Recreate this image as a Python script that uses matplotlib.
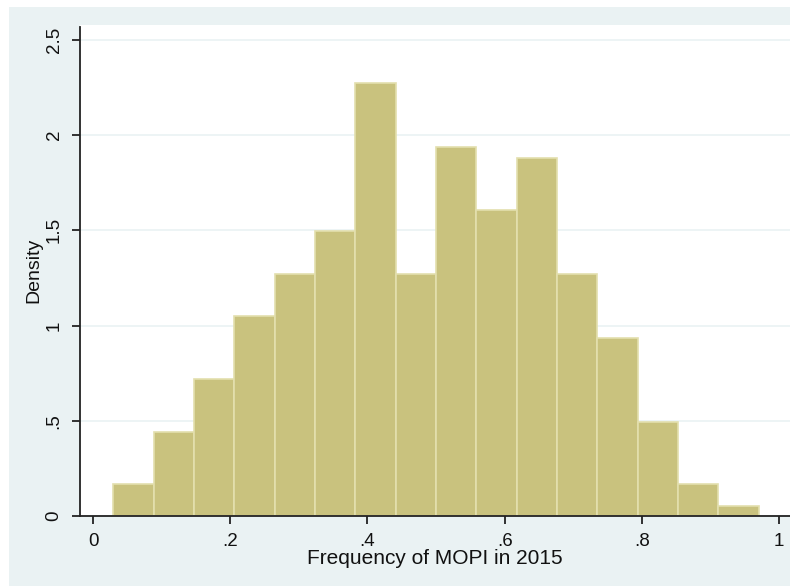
import matplotlib.pyplot as plt
from matplotlib.patches import Rectangle

BACKGROUND = "#EAF2F3"
BAR_FILL = "#C9C27E"
BAR_EDGE = "#E3DFAE"
TEXT_DARK = "#111111"

plt.rcParams["font.family"] = ["Liberation Sans", "DejaVu Sans"]

# histogram bins (left edges) and densities
bin_start = 0.0296
bin_width = 0.0588
densities = [0.168, 0.443, 0.718, 1.052, 1.271, 1.497, 2.272, 1.271,
             1.936, 1.607, 1.882, 1.271, 0.937, 0.495, 0.168, 0.0525]
bin_lefts = [bin_start + i * bin_width for i in range(len(densities))]

x_ticks = [0, 0.2, 0.4, 0.6, 0.8, 1.0]
x_tick_labels = ["0", ".2", ".4", ".6", ".8", "1"]
y_ticks = [0, 0.5, 1.0, 1.5, 2.0, 2.5]
y_tick_labels = ["0", ".5", "1", "1.5", "2", "2.5"]

fig = plt.figure(figsize=(7.9, 5.86), dpi=100)
fig.patch.set_facecolor("white")
fig.patches.append(Rectangle((9 / 790, 0), 1, 1 - 7 / 586, transform=fig.transFigure,
                             facecolor=BACKGROUND, edgecolor="none", zorder=-10))

ax = fig.add_axes([80 / 790, 1 - 516 / 586, 1 - 80 / 790, (516 - 25) / 586])
ax.set_facecolor("white")

ax.bar(bin_lefts, densities, width=bin_width, align="edge",
       color=BAR_FILL, edgecolor=BAR_EDGE, linewidth=1.2, zorder=2)

ax.set_xlim(-0.019, 1.016)
ax.set_ylim(0, 2.579)
ax.set_xticks(x_ticks, x_tick_labels)
ax.set_yticks(y_ticks, y_tick_labels)
for lbl in ax.get_yticklabels():
    lbl.set_rotation(90)
    lbl.set_va("center")

ax.yaxis.grid(True, color=BACKGROUND, linewidth=1.2, zorder=1)
ax.set_axisbelow(True)

for side in ["top", "right"]:
    ax.spines[side].set_visible(False)
for side in ["left", "bottom"]:
    ax.spines[side].set_color("#222222")
    ax.spines[side].set_linewidth(1.3)
ax.spines["left"].set_bounds(0, 2.57)

ax.tick_params(axis="both", direction="out", length=5.5, width=1.3, colors="#222222",
               labelcolor=TEXT_DARK, labelsize=13.5)
ax.tick_params(axis="x", pad=7)
ax.tick_params(axis="y", pad=7)

ax.set_xlabel("Frequency of MOPI in 2015", fontsize=15, color=TEXT_DARK, labelpad=-1)
ax.set_ylabel("Density", fontsize=14, color=TEXT_DARK, labelpad=2)

plt.savefig("out.png", dpi=100, facecolor=fig.get_facecolor())
plt.close()
